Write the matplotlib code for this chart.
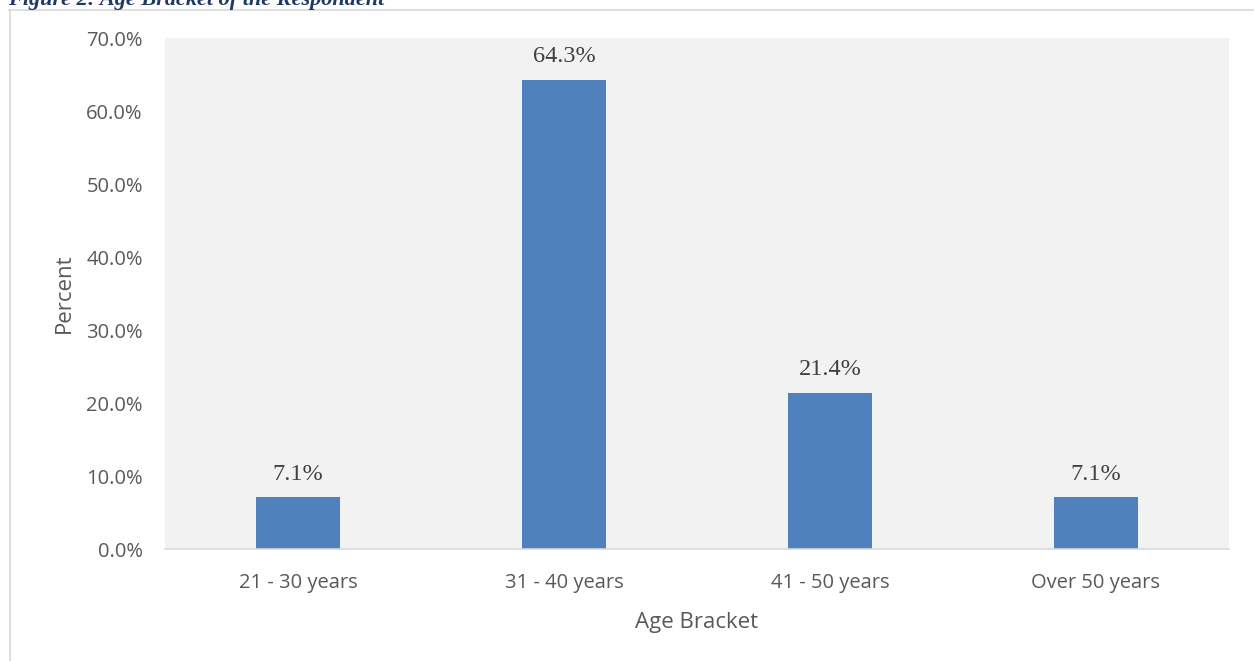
import matplotlib.pyplot as plt
from matplotlib.lines import Line2D
import numpy as np

# Age bracket distribution of respondents
brackets = ['21 - 30 years', '31 - 40 years', '41 - 50 years', 'Over 50 years']
percent = [7.1, 64.3, 21.4, 7.1]
yticks = [0, 10, 20, 30, 40, 50, 60, 70]

fig = plt.figure(figsize=(12.54, 6.61), dpi=100)
ax = fig.add_axes([0.1316, 0.1694, 0.8484, 0.7731])
ax.set_facecolor('#F2F2F2')

x = np.arange(len(brackets))
ax.bar(x, percent, width=0.316, color='#4F81BD', zorder=2)
for xi, v in zip(x, percent):
    ax.text(xi, v + 1.7, f'{v:.1f}%', ha='center', va='bottom',
            fontsize=17.5, family='Liberation Serif', color='#404040')

ax.set_xlim(-0.5, len(brackets) - 0.5)
ax.set_ylim(0, 70)
ax.set_yticks(yticks)
ax.set_yticklabels([f'{t:.1f}%' for t in yticks])
ax.set_xticks(x)
ax.set_xticklabels(brackets)
ax.tick_params(length=0, labelsize=14.5, labelcolor='#595959')
ax.tick_params(axis='y', pad=16)
ax.tick_params(axis='x', pad=17)
for lbl in ax.get_xticklabels() + ax.get_yticklabels():
    lbl.set_family('Open Sans')

for s in ['top', 'right', 'left']:
    ax.spines[s].set_visible(False)
ax.spines['bottom'].set_color('#D9D9D9')
ax.spines['bottom'].set_linewidth(1.2)

ax.set_ylabel('Percent', fontsize=16, color='#595959', family='Open Sans', labelpad=8)
ax.set_xlabel('Age Bracket', fontsize=16, color='#595959', family='Open Sans', labelpad=14)

# caption sitting above the chart frame
fig.text(0.006, 1 - 5 / 661, 'Figure 2: Age Bracket of the Respondent', ha='left', va='baseline',
         fontsize=16, family='Liberation Serif', weight='bold', style='italic', color='#1F3864')

# chart frame
W, H = 1254, 661
fig.add_artist(Line2D([9 / W, 1], [1 - 9.5 / H, 1 - 9.5 / H], color='#D9D9D9', lw=1.2))
fig.add_artist(Line2D([9.5 / W, 9.5 / W], [0, 1 - 9.5 / H], color='#D9D9D9', lw=1.2))

fig.savefig('out.png', dpi=100)
